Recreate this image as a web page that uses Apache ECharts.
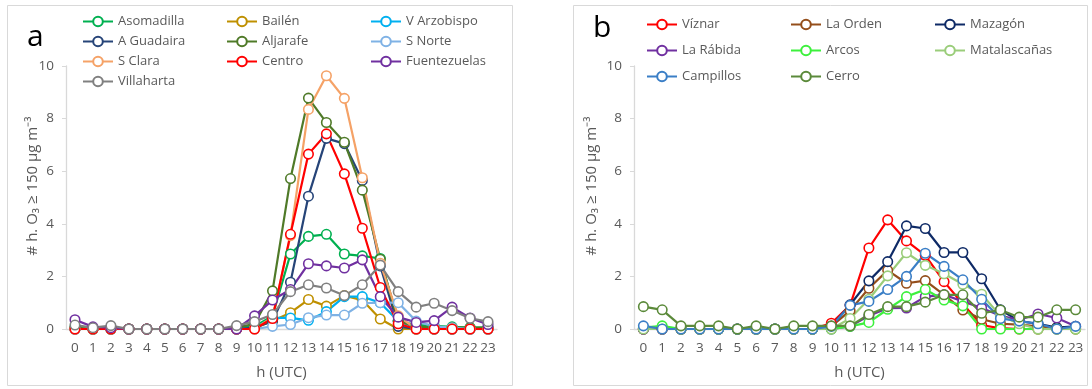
<!DOCTYPE html>
<html><head><meta charset="utf-8">
<script src="https://cdn.jsdelivr.net/npm/echarts@6/dist/echarts.min.js"></script>
<style>html,body{margin:0;padding:0;background:#fff}#c{width:1092px;height:389px}</style>
</head><body><div id="c"></div>
<script>
const hours = ['0','1','2','3','4','5','6','7','8','9','10','11','12','13','14','15','16','17','18','19','20','21','22','23'];
const yTicks = [0, 2, 4, 6, 8, 10];

// Panel a
const asomadilla   = [0.05,0,0,0,0,0,0,0,0,0.05,0.1,0.5,2.85,3.52,3.6,2.85,2.78,2.68,0.3,0.15,0.12,0.08,0.05,0.05];
const bailen       = [0,0,0,0,0,0,0,0,0,0,0.05,0.3,0.62,1.12,0.87,1.27,1.1,0.38,0,0,0,0,0,0];
const vArzobispo   = [0,0,0,0,0,0,0,0,0,0,0.05,0.42,0.42,0.33,0.66,1.23,1.23,1.0,0.3,0.05,0,0,0,0];
const aGuadaira    = [0,0,0,0,0,0,0,0,0,0,0.05,0.3,1.78,5.05,7.25,7.05,5.65,2.4,0.1,0,0,0,0,0];
const aljarafe     = [0.05,0,0,0,0,0,0,0,0,0.05,0.2,1.45,5.72,8.78,7.85,7.1,5.28,2.65,0.3,0.1,0.05,0.05,0.05,0.05];
const sNorte       = [0,0,0,0,0,0,0,0,0,0,0,0.1,0.17,0.43,0.53,0.53,0.98,1.0,1.0,0.3,0.1,0.05,0,0];
const sClara       = [0,0,0,0,0,0,0,0,0,0,0,0.45,3.55,8.35,9.63,8.77,5.75,2.5,0.5,0,0,0,0,0];
const centro       = [0,0,0,0,0,0,0,0,0,0,0,0.4,3.6,6.65,7.42,5.9,3.83,1.58,0.2,0,0,0,0,0];
const fuentezuelas = [0.35,0.08,0.05,0,0,0,0,0,0,0,0.5,1.1,1.5,2.48,2.4,2.32,2.63,1.23,0.45,0.25,0.32,0.83,0.42,0.17];
const villaharta   = [0.15,0.05,0.13,0,0,0,0,0,0,0.13,0.28,0.55,1.42,1.68,1.56,1.27,1.68,2.43,1.42,0.83,0.98,0.7,0.41,0.28];

// Panel b
const viznar       = [0,0,0,0,0,0,0,0,0,0,0.22,0.9,3.08,4.15,3.35,2.8,1.8,0.95,0.15,0.03,0,0,0,0];
const laOrden      = [0,0,0,0,0,0,0,0,0,0,0.1,0.7,1.55,2.23,1.74,1.84,1.3,0.72,0.37,0.2,0.17,0.1,0.05,0.05];
const mazagon      = [0,0,0,0,0,0,0,0,0,0,0.1,0.92,1.83,2.56,3.92,3.82,2.91,2.91,1.91,0.73,0.3,0.2,0.05,0.1];
const laRabida     = [0,0,0,0,0,0,0,0,0,0,0,0.1,0.5,0.79,0.8,1.23,1.3,1.05,0.8,0.5,0.35,0.57,0.42,0.1];
const arcos        = [0.05,0.12,0,0,0,0,0,0,0,0,0,0.1,0.25,0.75,1.23,1.5,1.1,0.88,0,0,0,0,0,0];
const matalascanas = [0,0,0,0,0,0,0,0,0,0,0,0.4,1.13,2.02,2.9,2.42,2.1,1.7,1.32,0.5,0.2,0,0,0];
const campillos    = [0.12,0,0,0,0,0,0,0,0,0,0.1,0.9,1.05,1.5,2.0,2.88,2.38,1.87,1.13,0.4,0.3,0.2,0,0.1];
const cerro        = [0.85,0.73,0.12,0.12,0.12,0,0.12,0,0.12,0.12,0.12,0.12,0.55,0.85,0.85,1.02,1.3,1.3,0.6,0.72,0.45,0.45,0.73,0.73];

const seriesA = [
  ['Asomadilla', asomadilla, '#00B050'],
  ['Bailén', bailen, '#BF9000'],
  ['V Arzobispo', vArzobispo, '#00B0F0'],
  ['A Guadaira', aGuadaira, '#264478'],
  ['Aljarafe', aljarafe, '#4F7A28'],
  ['S Norte', sNorte, '#7FB2E5'],
  ['S Clara', sClara, '#F5A267'],
  ['Centro', centro, '#FF0000'],
  ['Fuentezuelas', fuentezuelas, '#7030A0'],
  ['Villaharta', villaharta, '#808080']
];
const seriesB = [
  ['Víznar', viznar, '#FF0000'],
  ['La Orden', laOrden, '#944E1A'],
  ['Mazagón', mazagon, '#0E2A66'],
  ['La Rábida', laRabida, '#7030A0'],
  ['Arcos', arcos, '#3DF03D'],
  ['Matalascañas', matalascanas, '#9ACD7A'],
  ['Campillos', campillos, '#3A7EC6'],
  ['Cerro', cerro, '#5B8A3A']
];

const FONT = 'Open Sans';
const TXT = '#595959';
const AX = '#D9D9D9';
const yName = '# h. O₃ ≥ 150 μg m⁻³';

function mkSeries(list, idx) {
  return list.map(([name, data, color]) => ({
    name, type: 'line', data, xAxisIndex: idx, yAxisIndex: idx,
    symbol: 'circle', symbolSize: 9.5, showSymbol: true,
    lineStyle: { color, width: 2.2 },
    itemStyle: { color: '#fff', borderColor: color, borderWidth: 1.6 },
    emphasis: { disabled: true }, animation: false
  }));
}
function mkX(gi) {
  return {
    type: 'category', gridIndex: gi, data: hours, boundaryGap: true,
    axisLine: { lineStyle: { color: AX, width: 1.3 } },
    axisTick: { inside: true, length: 4, lineStyle: { color: AX } },
    axisLabel: { color: TXT, fontSize: 13.5, fontFamily: FONT, margin: 12, interval: 0 },
    name: 'h (UTC)', nameLocation: 'middle', nameGap: 36,
    nameTextStyle: { color: TXT, fontSize: 15, fontFamily: FONT },
    splitLine: { show: false }
  };
}
function mkY(gi) {
  return {
    type: 'value', gridIndex: gi, min: 0, max: 10, interval: 2,
    axisLine: { show: true, lineStyle: { color: AX, width: 1.3 } },
    axisTick: { show: true, length: 4, lineStyle: { color: AX } },
    axisLabel: { color: TXT, fontSize: 13.5, fontFamily: FONT, margin: 12,
      formatter: v => yTicks.includes(v) ? String(v) : '' },
    splitLine: { show: false }
  };
}
function mkLegend(names, left, top, gap) {
  return {
    orient: 'vertical', left, top, padding: 0, itemGap: gap,
    itemWidth: 30, itemHeight: 12, data: names,
    textStyle: { color: TXT, fontSize: 13, fontFamily: FONT },
    selectedMode: false
  };
}
function yTitle(x, y) {
  return { type: 'text', x, y, rotation: Math.PI / 2, silent: true,
    style: { text: yName, fill: TXT, font: '15px "Open Sans"', align: 'center', verticalAlign: 'middle' } };
}

const chart = echarts.init(document.getElementById('c'), null, { renderer: 'canvas' });
chart.setOption({
  backgroundColor: '#fff',
  animation: false,
  grid: [
    { left: 66, top: 66, width: 431, height: 263 },
    { left: 634, top: 66, width: 451, height: 263 }
  ],
  xAxis: [mkX(0), mkX(1)],
  yAxis: [mkY(0), mkY(1)],
  legend: [
    mkLegend(['Asomadilla', 'A Guadaira', 'S Clara', 'Villaharta'], 82, 15, 7),
    mkLegend(['Bailén', 'Aljarafe', 'Centro'], 226, 15, 7),
    mkLegend(['V Arzobispo', 'S Norte', 'Fuentezuelas'], 370, 15, 7),
    mkLegend(['Víznar', 'La Rábida', 'Campillos'], 646, 18, 13),
    mkLegend(['La Orden', 'Arcos', 'Cerro'], 790, 18, 13),
    mkLegend(['Mazagón', 'Matalascañas'], 934, 18, 13)
  ],
  graphic: [
    { type: 'rect', shape: { x: 7.5, y: 5.5, width: 505, height: 380 }, style: { fill: 'none', stroke: AX, lineWidth: 1 }, silent: true },
    { type: 'rect', shape: { x: 573.5, y: 5.5, width: 514, height: 380 }, style: { fill: 'none', stroke: AX, lineWidth: 1 }, silent: true },
    { type: 'text', left: 27, top: 22, style: { text: 'a', font: '30px "Open Sans"', fill: '#000' }, silent: true },
    { type: 'text', left: 593, top: 13, style: { text: 'b', font: '30px "Open Sans"', fill: '#000' }, silent: true },
    yTitle(33, 186),
    yTitle(592, 186)
  ],
  series: [...mkSeries(seriesA, 0), ...mkSeries(seriesB, 1)]
});
</script>
</body></html>
